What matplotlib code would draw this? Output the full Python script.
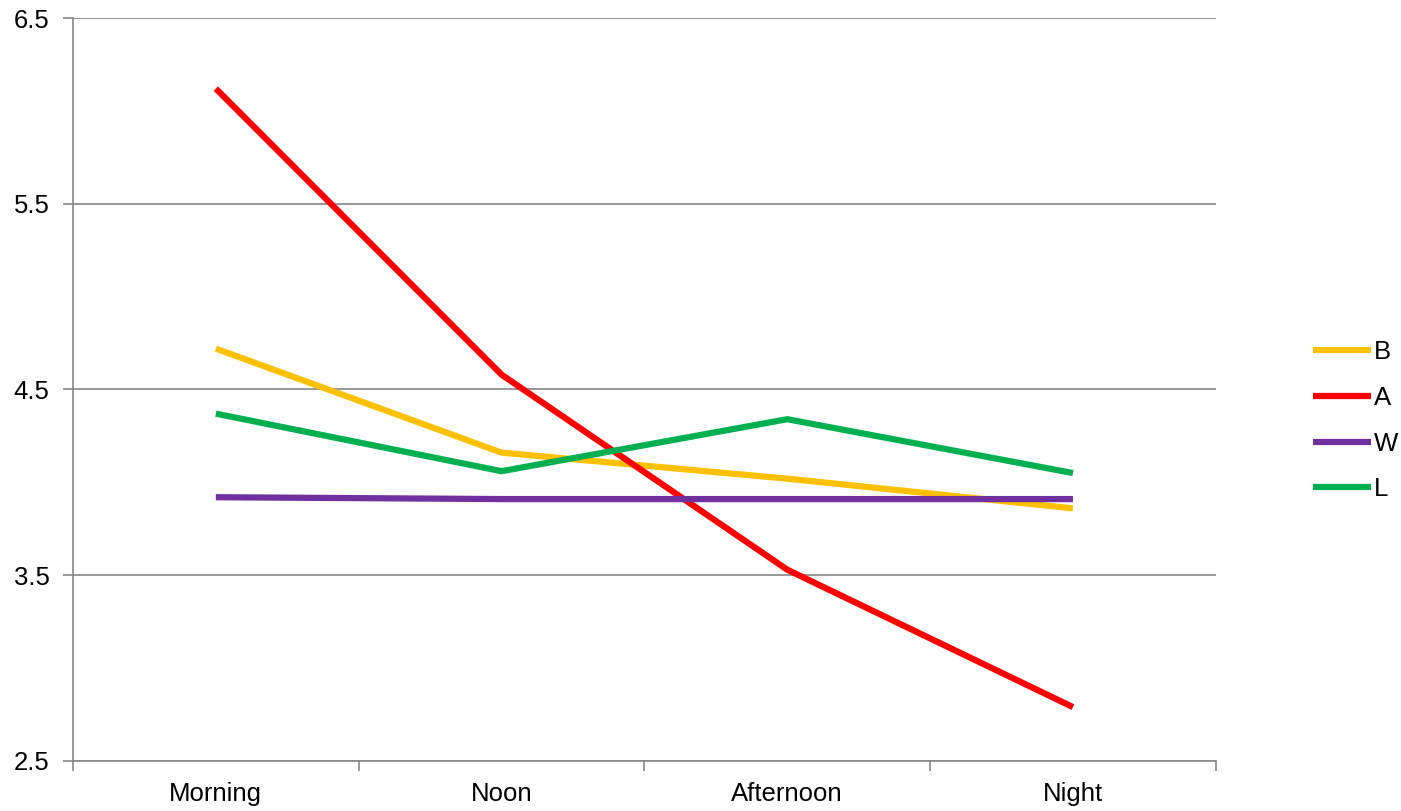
import numpy as np
import matplotlib.pyplot as plt

plt.rcParams['font.family'] = ['Liberation Sans', 'DejaVu Sans']

categories = ['Morning', 'Noon', 'Afternoon', 'Night']
series_names = ['B', 'A', 'W', 'L']
b_vals = [4.72, 4.16, 4.02, 3.86]
a_vals = [6.12, 4.58, 3.53, 2.79]
w_vals = [3.92, 3.91, 3.91, 3.91]
l_vals = [4.37, 4.06, 4.34, 4.05]
colors = ['#FFC000', '#FF0000', '#7030A0', '#00B050']
y_ticks = [2.5, 3.5, 4.5, 5.5, 6.5]

fig = plt.figure(figsize=(14.01, 8.11), dpi=100)
ax = fig.add_axes([0.0521, 0.0617, 0.8157, 0.9161])

x = np.arange(len(categories))
for name, vals, c in zip(series_names, [b_vals, a_vals, w_vals, l_vals], colors):
    ax.plot(x, vals, color=c, linewidth=4.5, label=name, solid_capstyle='butt')

ax.set_xlim(-0.5, len(categories) - 0.5)
ax.set_ylim(2.5, 6.5)
ax.set_yticks(y_ticks)
ax.set_yticklabels(['%.1f' % v for v in y_ticks])
ax.yaxis.grid(True, color='#868686', linewidth=1.2)
ax.set_axisbelow(True)

ax.set_xticks(x)
ax.set_xticklabels(categories)
ax.set_xticks(np.arange(-0.5, len(categories)), minor=True)
ax.tick_params(axis='x', which='major', length=0, pad=15, labelsize=18.5)
ax.tick_params(axis='x', which='minor', length=7, width=1.2, color='#868686')
ax.tick_params(axis='y', length=7, width=1.2, color='#868686', pad=10, labelsize=18.5)

for s in ['top', 'right']:
    ax.spines[s].set_visible(False)
for s in ['left', 'bottom']:
    ax.spines[s].set_color('#868686')
    ax.spines[s].set_linewidth(1.2)

ax.legend(loc='center left', bbox_to_anchor=(1.065, 0.458), frameon=False,
          handlelength=2.25, handletextpad=0.1, labelspacing=0.85, fontsize=18.5)

plt.savefig('out.png', dpi=100)
